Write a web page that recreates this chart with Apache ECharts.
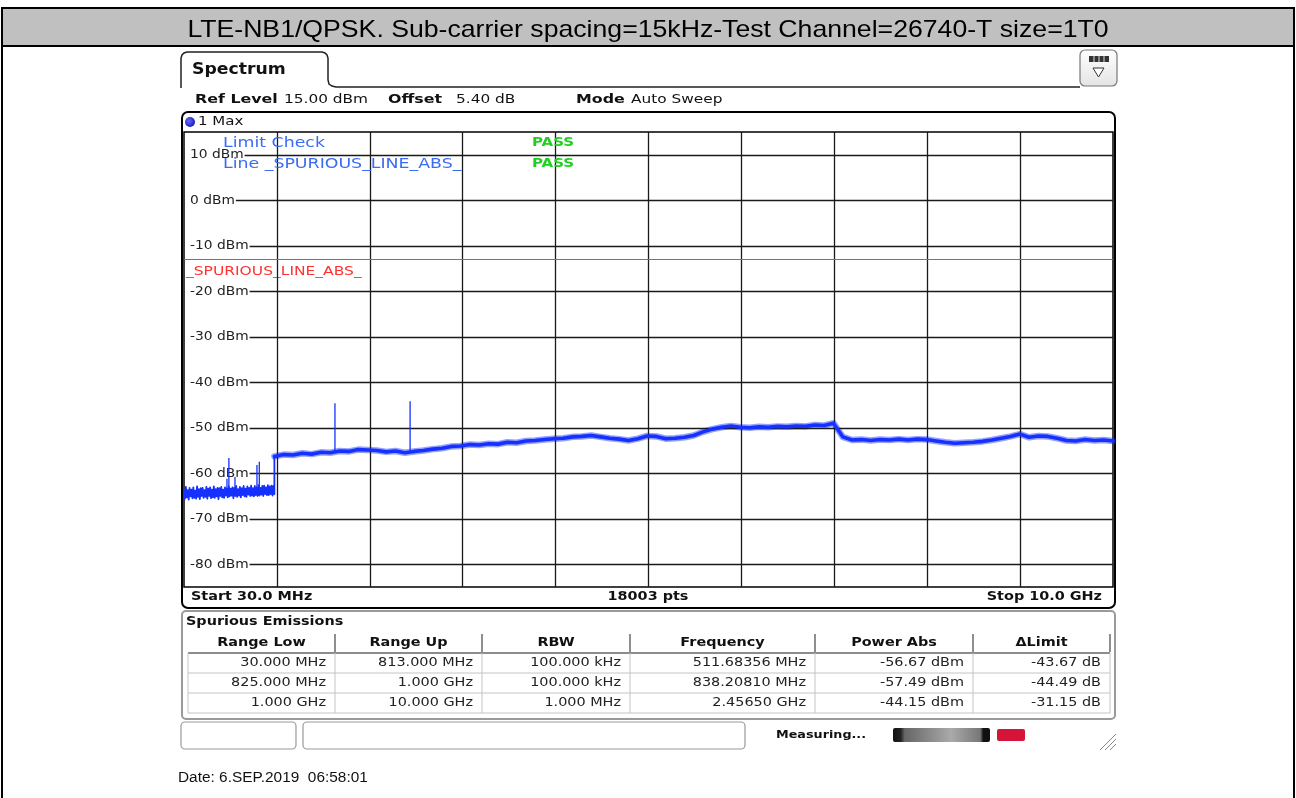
<!DOCTYPE html>
<html><head><meta charset="utf-8">
<script src="https://cdn.jsdelivr.net/npm/echarts@6/dist/echarts.min.js"></script>
<style>html,body{margin:0;padding:0;background:#fff}#c{width:1296px;height:798px}</style>
</head><body><div id="c"></div>
<script>
// ---------------- data ----------------
const titleText = 'LTE-NB1/QPSK. Sub-carrier spacing=15kHz-Test Channel=26740-T size=1T0';
const dateText = 'Date: 6.SEP.2019  06:58:01';
const startMHz = 30, stopMHz = 10000, xDivisions = 10;
const refLevelDbm = 15, bottomDbm = -85;
const yTicks = [10, 0, -10, -20, -30, -40, -50, -60, -70, -80];
const limitDbm = -13;
const limitName = '_SPURIOUS_LINE_ABS_';
// trace 30 MHz .. 1000 MHz, one reading every 10 MHz
const lowStepMHz = 10;
const lowTrace = [
  -63.4,-65.6,-63.0,-65.3,-63.7,-65.8,-63.2,-65.1,-63.6,-65.5,
  -63.1,-65.4,-63.8,-65.6,-62.9,-65.2,-63.5,-65.7,-63.3,-65.0,
  -63.2,-65.4,-63.7,-65.2,-63.0,-65.6,-63.4,-65.0,-63.1,-65.5,
  -63.6,-65.3,-62.9,-65.4,-63.5,-65.1,-63.2,-65.7,-63.3,-65.0,
  -63.0,-65.3,-63.6,-65.4,-63.1,-64.9,-63.4,-65.3,-62.9,-65.1,
  -63.4,-64.9,-63.1,-65.5,-63.2,-65.0,-62.8,-65.2,-63.5,-64.9,
  -63.0,-65.3,-63.3,-64.8,-62.8,-65.1,-63.4,-65.2,-62.9,-64.7,
  -63.2,-65.0,-62.7,-64.9,-63.3,-65.1,-62.8,-64.8,-63.1,-65.0,
  -62.6,-64.9,-63.2,-64.7,-62.8,-65.0,-62.7,-64.6,-63.1,-64.8,
  -62.6,-64.8,-62.9,-64.6,-62.7,-64.9,-62.8,-64.6
];
// trace 1000 MHz .. 10000 MHz, one reading every 100 MHz
const highStartMHz = 1000, highStepMHz = 100;
const highTrace = [
  -56.3,-55.9,-56.0,-55.6,-55.8,-55.4,-55.5,-55.1,-55.2,-54.8,
  -54.9,-55.0,-55.3,-55.1,-55.5,-55.2,-55.0,-54.7,-54.5,-54.1,
  -54.0,-53.7,-53.8,-53.5,-53.6,-53.2,-53.3,-52.9,-52.8,-52.6,
  -52.4,-52.3,-52.0,-51.9,-51.7,-52.0,-52.3,-52.5,-52.8,-52.4,
  -51.8,-51.9,-52.4,-52.3,-52.1,-51.7,-50.9,-50.3,-49.9,-49.6,
  -49.9,-50.0,-49.8,-49.9,-49.7,-49.8,-49.6,-49.7,-49.4,-49.5,
  -49.0,-52.0,-52.7,-52.6,-52.8,-52.6,-52.7,-52.5,-52.7,-52.5,
  -52.6,-52.9,-53.2,-53.4,-53.3,-53.2,-53.0,-52.7,-52.3,-51.9,
  -51.4,-52.1,-51.8,-51.9,-52.3,-52.8,-52.9,-52.6,-52.8,-52.7,
  -52.9
];
// narrow spurs: frequency, floor under it, peak
const spikeFreq = [491, 511.68, 577, 813, 838.21, 1650, 2456.5];
const spikeBase = [-63.6, -63.6, -63.5, -63.3, -63.3, -55.4, -55.4];
const spikePeak = [-61.2, -56.67, -60.8, -58.2, -57.49, -44.6, -44.15];
// results table
const tableTitle = 'Spurious Emissions';
const tableHeaders = ['Range Low', 'Range Up', 'RBW', 'Frequency', 'Power Abs', '\u0394Limit'];
const rangeLow = ['30.000 MHz', '825.000 MHz', '1.000 GHz'];
const rangeUp = ['813.000 MHz', '1.000 GHz', '10.000 GHz'];
const rbw = ['100.000 kHz', '100.000 kHz', '1.000 MHz'];
const frequency = ['511.68356 MHz', '838.20810 MHz', '2.45650 GHz'];
const powerAbs = ['-56.67 dBm', '-57.49 dBm', '-44.15 dBm'];
const deltaLimit = ['-43.67 dB', '-44.49 dB', '-31.15 dB'];
const infoRow = [['Ref Level', '15.00 dBm'], ['Offset', '5.40 dB'], ['Mode', 'Auto Sweep']];
const footer = ['Start 30.0 MHz', '18003 pts', 'Stop 10.0 GHz'];

// ---------------- chart ----------------
const chart = echarts.init(document.getElementById('c'), null, {renderer: 'canvas', width: 1296, height: 798});
const FONT = '"DejaVu Sans", Verdana, sans-serif';
const ARIAL = '"Liberation Sans", Arial, sans-serif';
const SX = 1.2;
const BLUE = '#1530ff';
const yLabSize = 11.5;

const xGrid = [];
for (let k = 1; k < xDivisions; k++) xGrid.push(startMHz + (stopMHz - startMHz) * k / xDivisions);
const lowData = lowTrace.map((v, i) => [startMHz + i * lowStepMHz, v]);
lowData.push([highStartMHz, highTrace[0]]);
const highData = highTrace.map((v, i) => [highStartMHz + i * highStepMHz, v]);
const spikeData = [];
spikeFreq.forEach((f, i) => { spikeData.push([f, spikeBase[i]], [f, spikePeak[i]], [f, '-']); });

function gridSeries(yLines) {
  return {
    type: 'line', data: [[startMHz, bottomDbm]], symbol: 'none', lineStyle: {width: 0}, z: 1, silent: true,
    markLine: {
      silent: true, symbol: ['none', 'none'], animation: false,
      lineStyle: {color: '#1a1a1a', width: 1.3, type: 'solid'},
      label: {show: false},
      data: xGrid.map(f => ({xAxis: f})).concat(yLines).concat([
        {yAxis: limitDbm, lineStyle: {color: '#ff3a3a', width: 1.2, type: 'solid'}}
      ])
    }
  };
}

const option = {
  animation: false,
  backgroundColor: '#fff',
  grid: {left: 184, top: 132, width: 929, height: 455, show: true, borderColor: '#000', borderWidth: 1.5, backgroundColor: 'transparent'},
  xAxis: {type: 'value', min: startMHz, max: stopMHz, show: false},
  yAxis: {type: 'value', min: bottomDbm, max: refLevelDbm, show: false},
  series: [
    gridSeries([]),
    {type: 'line', data: lowData, symbol: 'none', z: 5, silent: true,
     lineStyle: {color: BLUE, width: 1.8, join: 'round'}},
    {type: 'line', data: highData, symbol: 'none', z: 4, silent: true,
     lineStyle: {color: BLUE, width: 6.5, opacity: 0.45, join: 'round', cap: 'round'}},
    {type: 'line', data: highData, symbol: 'none', z: 5, silent: true,
     lineStyle: {color: BLUE, width: 3.6, join: 'round', cap: 'round'}},
    {type: 'line', data: spikeData, symbol: 'none', z: 5, silent: true, connectNulls: false,
     lineStyle: {color: BLUE, width: 1.3}}
  ]
};
chart.setOption(option);

// ---------------- chrome (graphic) ----------------
const E = [];
function T(x, y, text, o) {
  o = o || {};
  const st = {
    text: text, fill: o.color || '#111', fontFamily: o.family || FONT,
    fontSize: o.size || 12, fontWeight: o.bold ? 'bold' : 'normal',
    align: o.align || 'left', verticalAlign: 'middle'
  };
  E.push({type: 'text', x: x, y: y, z: o.z != null ? o.z : 10, silent: true,
    scaleX: o.sx != null ? o.sx : SX, style: st});
}
function L(x1, y1, x2, y2, color, w, z) {
  E.push({type: 'line', silent: true, z: z != null ? z : 8, shape: {x1, y1, x2, y2}, style: {stroke: color, lineWidth: w}});
}
function R(x, y, w, h, o) {
  E.push({type: 'rect', silent: true, z: o.z != null ? o.z : 0,
    shape: {x, y, width: w, height: h, r: o.r || 0},
    style: {fill: o.fill || 'none', stroke: o.stroke || 'none', lineWidth: o.lw || 1}});
}
function measure(text, size) {
  const t = new echarts.graphic.Text({style: {text: text, fontFamily: FONT, fontSize: size}});
  return t.getBoundingRect().width;
}

// page frame + title band
R(0, 0, 1296, 798, {fill: '#fff', z: -5});
R(2, 8, 1292, 38, {fill: '#c0c0c0', z: -4});
L(1, 8, 1295, 8, '#000', 2, 1);
L(1, 46, 1295, 46, '#000', 2, 1);
L(2, 7, 2, 798, '#000', 2, 1);
L(1294, 7, 1294, 798, '#000', 2, 1);
T(648, 30, titleText, {family: ARIAL, size: 24, align: 'center', sx: 1.11, color: '#000'});

// spectrum tab
E.push({type: 'polyline', silent: true, z: 1, shape: {points: [[181, 88], [181, 58], [182, 55], [184, 53], [187, 52], [322, 52], [325, 53], [327, 55], [328, 58], [328, 80], [329, 84], [332, 86], [336, 87], [1080, 87]]},
  style: {stroke: '#222', lineWidth: 1.5, fill: 'none'}});
T(192, 70, 'Spectrum', {size: 15, bold: true, sx: 1.15});
// button top right
E.push({type: 'rect', silent: true, z: 1, shape: {x: 1080, y: 50, width: 37, height: 36, r: 5},
  style: {stroke: '#777', lineWidth: 1.2, fill: {type: 'linear', x: 0, y: 0, x2: 0, y2: 1, colorStops: [{offset: 0, color: '#ffffff'}, {offset: 1, color: '#e4e4e4'}]}}});
R(1089, 56, 20, 6, {fill: '#333', z: 2});
L(1094, 56, 1094, 62, '#ddd', 1, 3); L(1099, 56, 1099, 62, '#ddd', 1, 3); L(1104, 56, 1104, 62, '#ddd', 1, 3);
E.push({type: 'polygon', silent: true, z: 2, shape: {points: [[1093, 68], [1104, 68], [1098.5, 77]]}, style: {stroke: '#333', fill: '#fff', lineWidth: 1}});

// info row
const infoX = [[195, 284], [388, 456], [576, 631]];
infoRow.forEach((p, i) => {
  T(infoX[i][0], 100, p[0], {size: 13, bold: true, sx: 1.22});
  T(infoX[i][1], 100, p[1], {size: 13, sx: 1.18});
});

// plot frame
R(182, 112, 933, 496, {stroke: '#000', lw: 2, r: 6, z: 1});
E.push({type: 'circle', silent: true, z: 10, shape: {cx: 190, cy: 122, r: 5},
  style: {fill: {type: 'radial', x: 0.4, y: 0.4, r: 0.7, colorStops: [{offset: 0, color: '#6a6aff'}, {offset: 1, color: '#1010b0'}]}}});
T(198, 122, '1 Max', {size: 12.5});

// y tick labels placed through the axis scale; each grid line starts after its label
const yLines = [];
yTicks.forEach(v => {
  const p = chart.convertToPixel({xAxisIndex: 0, yAxisIndex: 0}, [startMHz, v]);
  const lab = v + ' dBm';
  const endPx = p[0] + 6 + measure(lab, yLabSize) * SX + 1;
  const endMHz = chart.convertFromPixel({xAxisIndex: 0, yAxisIndex: 0}, [endPx, p[1]])[0];
  yLines.push([{coord: [endMHz, v]}, {coord: [stopMHz, v]}]);
  T(p[0] + 6, p[1] + 0.5, lab, {size: yLabSize, z: 4, color: '#222'});
});
chart.setOption({series: [gridSeries(yLines)]});

// limit line label
const lp = chart.convertToPixel({xAxisIndex: 0, yAxisIndex: 0}, [startMHz, limitDbm]);
T(lp[0] + 2, lp[1] + 12, limitName, {size: 12.5, sx: 1.24, color: '#ff3030', z: 4});

// limit check overlay
T(223, 143, 'Limit Check', {size: 14, sx: 1.24, color: '#3a6cf4', z: 12});
T(223, 164, 'Line ' + limitName, {size: 14, sx: 1.24, color: '#3a6cf4', z: 12});
T(532, 143, 'PASS', {size: 12.5, bold: true, color: '#20d020', z: 12});
T(532, 164, 'PASS', {size: 12.5, bold: true, color: '#20d020', z: 12});

// footer row of plot
T(191, 597, footer[0], {size: 12, bold: true});
T(648, 597, footer[1], {size: 12, bold: true, align: 'center'});
T(1102, 597, footer[2], {size: 12, bold: true, align: 'right'});

// table
R(182, 611, 933, 108, {stroke: '#9a9a9a', lw: 2, r: 4, z: 0});
T(186, 622, tableTitle, {size: 12, bold: true});
const colX = [188, 335, 482, 630, 815, 973, 1110];
const rowY = [663, 683, 703];
const cols = [rangeLow, rangeUp, rbw, frequency, powerAbs, deltaLimit];
tableHeaders.forEach((h, i) => {
  T((colX[i] + colX[i + 1]) / 2, 643, h, {size: 12, bold: true, align: 'center'});
  L(colX[i + 1], 634, colX[i + 1], 652, '#444', 1.2, 2);
});
L(188, 653, 1110, 653, '#666', 1.5, 2);
rowY.forEach(y => L(188, y + 10, 1110, y + 10, '#c4c4c4', 1, 2));
colX.forEach(x => L(x, 653, x, 713, '#c4c4c4', 1, 2));
cols.forEach((col, i) => {
  col.forEach((t, r) => T(colX[i + 1] - 9, rowY[r], t, {size: 12, align: 'right', color: '#222'}));
});

// status bar
R(181, 722, 115, 27, {stroke: '#999', lw: 1.2, r: 4, fill: '#fff', z: 1});
R(303, 722, 442, 27, {stroke: '#999', lw: 1.2, r: 4, fill: '#fff', z: 1});
T(776, 735, 'Measuring...', {size: 11, bold: true, sx: 1.16});
E.push({type: 'rect', silent: true, z: 2, shape: {x: 893, y: 728, width: 97, height: 14, r: 2},
  style: {fill: {type: 'linear', x: 0, y: 0, x2: 1, y2: 0, colorStops: [{offset: 0, color: '#111'}, {offset: 0.08, color: '#222'}, {offset: 0.12, color: '#666'}, {offset: 0.6, color: '#aaa'}, {offset: 0.9, color: '#777'}, {offset: 0.93, color: '#111'}, {offset: 1, color: '#111'}]}}});
R(997, 729, 28, 12, {fill: '#d41438', r: 2, z: 2});
L(1100, 750, 1116, 734, '#888', 1, 2); L(1105, 750, 1116, 739, '#888', 1, 2); L(1110, 750, 1116, 744, '#888', 1, 2);
T(178, 778, dateText, {family: ARIAL, size: 14, sx: 1.1, color: '#111'});

chart.setOption({graphic: {elements: E}});
</script>
</body></html>
